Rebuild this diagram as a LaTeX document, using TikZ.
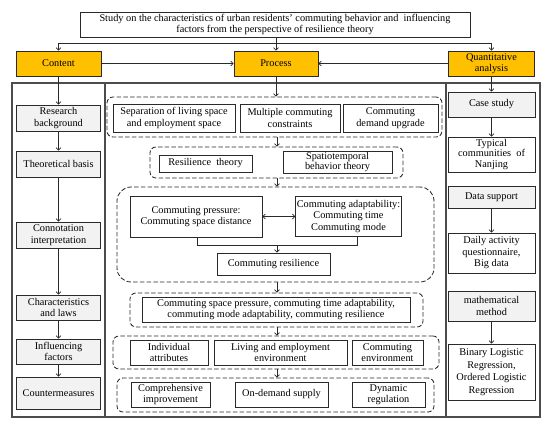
\documentclass[tikz,border=0pt]{standalone}
\usepackage{fontspec}
\setmainfont{Liberation Serif}
\usetikzlibrary{arrows.meta}
\definecolor{orng}{HTML}{FFC000}
\definecolor{lgray}{HTML}{F2F2F2}
\definecolor{lnc}{HTML}{2A2A2A}
\begin{document}
\begin{tikzpicture}[x=1pt,y=-1pt,
  font=\fontsize{10.3}{11.5}\selectfont,
  base/.style={draw=lnc, line width=0.85pt, align=center, inner sep=1pt, anchor=center},
  wbox/.style={base, fill=white},
  gbox/.style={base, fill=lgray},
  obox/.style={base, fill=orng},
  grp/.style={draw=lnc, line width=0.85pt, dash pattern=on 4.5pt off 2.2pt, rounded corners=6pt, inner sep=0pt},
  arr/.style={draw=lnc, line width=0.7pt, -{Straight Barb[length=2.5pt,width=5pt]}},
  ln/.style={draw=lnc, line width=0.7pt},
  frame/.style={draw=black!70, line width=1.1pt}]
\useasboundingbox (0,0) rectangle (550,426);

% outer frame and column dividers
\coordinate (fTL) at (12,83);
\coordinate (fBR) at (540,417);
\coordinate (dvL) at (105,83);
\coordinate (dvR) at (446,83);
\draw[frame] (fTL) rectangle (fBR);
\draw[frame] (dvL) -- (dvL |- fBR);
\draw[frame] (dvR) -- (dvR |- fBR);

% dashed groups
\node[grp, minimum width=335pt, minimum height=40pt] (d1) at (274.5,117) {};
\node[grp, minimum width=253pt, minimum height=31pt] (d2) at (276.5,162.5) {};
\node[grp, rounded corners=14pt, minimum width=317pt, minimum height=95pt] (d3) at (275.5,234.5) {};
\node[grp, minimum width=293pt, minimum height=34pt] (d4) at (276.5,310) {};
\node[grp, minimum width=326pt, minimum height=33pt] (d5) at (276,352.5) {};
\node[grp, minimum width=317pt, minimum height=34pt] (d6) at (275.5,395) {};

% top
\node[wbox, minimum width=390pt, minimum height=25pt] (title) at (275,24.5)
  {Study on the characteristics of urban residents' commuting behavior and\ \ influencing\\factors from the perspective of resilience theory};
\node[obox, minimum width=85pt, minimum height=25pt] (content) at (58.5,63.5) {Content};
\node[obox, minimum width=84pt, minimum height=25pt] (process) at (276,63.5) {Process};
\node[obox, minimum width=86pt, minimum height=25pt] (quant) at (491.5,63.5) {Quantitative\\analysis};

% left column
\node[gbox, minimum width=84pt, minimum height=26pt] (rb) at (58.5,118) {Research\\background};
\node[gbox, minimum width=84pt, minimum height=26pt] (tb) at (58.5,164) {Theoretical basis};
\node[gbox, minimum width=84pt, minimum height=26pt] (ci) at (58.5,235) {Connotation\\interpretation};
\node[gbox, minimum width=84pt, minimum height=25pt] (cl) at (58.5,307.5) {Characteristics\\and laws};
\node[gbox, minimum width=84pt, minimum height=25pt] (inf) at (58.5,351.5) {Influencing\\factors};
\node[gbox, minimum width=84pt, minimum height=32pt] (cm) at (58.5,393) {Countermeasures};

% right column
\node[gbox, minimum width=87pt, minimum height=25pt] (cs) at (491.5,104.5) {Case study};
\node[wbox, minimum width=87pt, minimum height=35pt, font=\fontsize{10.3}{10.5}\selectfont] (tc) at (491.5,154.5) {Typical\\communities\ \ of\\Nanjing};
\node[gbox, minimum width=87pt, minimum height=22pt] (ds) at (491.5,197) {Data support};
\node[wbox, minimum width=87pt, minimum height=40pt] (da) at (491.5,253) {Daily activity\\questionnaire,\\Big data};
\node[gbox, minimum width=87pt, minimum height=30pt] (mm) at (491.5,306) {mathematical\\method};
\node[wbox, minimum width=87pt, minimum height=56pt, font=\fontsize{10.3}{12.5}\selectfont] (bl) at (491.5,372) {Binary Logistic\\Regression,\\Ordered Logistic\\Regression};

% process column
\node[wbox, minimum width=122pt, minimum height=28pt] (sep) at (174,118) {Separation of living space\\and employment space};
\node[wbox, minimum width=100pt, minimum height=28pt] (mc) at (290,118) {Multiple commuting\\constraints};
\node[wbox, minimum width=95pt, minimum height=28pt] (cdu) at (390.5,118) {Commuting\\demand upgrade};

\node[wbox, minimum width=93pt, minimum height=17pt] (rt) at (205.5,163.5) {Resilience\ \ theory};
\node[wbox, minimum width=109pt, minimum height=22pt, font=\fontsize{10.3}{10.5}\selectfont] (st) at (337.5,162) {Spatiotemporal\\behavior theory};

\node[wbox, minimum width=132pt, minimum height=41pt] (cp) at (196,216.5) {Commuting pressure:\\Commuting space distance};
\node[wbox, minimum width=103pt, minimum height=40pt] (ca) at (348.5,216.5) {Commuting adaptability:\\Commuting time\\Commuting mode};
\node[wbox, minimum width=113pt, minimum height=22pt] (cr) at (273.5,264) {Commuting resilience};

\node[wbox, minimum width=268pt, minimum height=25pt] (csp) at (276,309.5) {Commuting space pressure, commuting time adaptability,\\commuting mode adaptability, commuting resilience};

\node[wbox, minimum width=78pt, minimum height=25pt] (ia) at (169,352.5) {Individual\\attributes};
\node[wbox, minimum width=133pt, minimum height=25pt] (le) at (280.5,352.5) {Living and employment\\environment};
\node[wbox, minimum width=71pt, minimum height=25pt] (ce) at (387.5,352.5) {Commuting\\environment};

\node[wbox, minimum width=79pt, minimum height=25pt] (ci2) at (170.5,394.5) {Comprehensive\\improvement};
\node[wbox, minimum width=93pt, minimum height=25pt] (od) at (281.5,394.5) {On-demand supply};
\node[wbox, minimum width=73pt, minimum height=25pt] (dr) at (388.5,394.5) {Dynamic\\regulation};

% top connectors
\coordinate (hl) at (275,43);
\draw[ln] (hl -| content) -- (hl -| quant);
\draw[arr] (hl -| content) -- (content.north);
\draw[arr] (hl -| quant) -- (quant.north);
\draw[arr] (title.south -| process) -- (process.north);
\draw[arr] (content.east) -- (process.west);
\draw[arr] (quant.west) -- (process.east);

% left column connectors
\draw[arr] (content.south) -- (rb.north);
\draw[arr] (rb.south) -- (tb.north);
\draw[arr] (tb.south) -- (ci.north);
\draw[arr] (ci.south) -- (cl.north);
\draw[arr] (cl.south) -- (inf.north);
\draw[arr] (inf.south) -- (cm.north);

% right column connectors
\draw[arr] (quant.south) -- (cs.north);
\draw[arr] (cs.south) -- (tc.north);
\draw[arr] (ds.south) -- (da.north);
\draw[arr] (mm.south) -- (bl.north);

% process column connectors
\coordinate (jx) at (277,0);
\draw[arr] (process.south) -- (d1.north -| process);
\draw[arr] (d1.south -| jx) -- (d2.north -| jx);
\draw[arr] (d2.south -| jx) -- (d3.north -| jx);
\draw[ln, {Straight Barb[length=2.5pt,width=5pt]}-{Straight Barb[length=2.5pt,width=5pt]}] (cp.east) -- (ca.west);
\coordinate (jy) at (0,245);
\draw[ln] ([xshift=1pt]cp.south) -- ([xshift=1pt]cp.south |- jy) -- ([xshift=8.5pt]ca.south |- jy) -- ([xshift=8.5pt]ca.south);
\draw[arr] (jx |- jy) -- (jx |- cr.north);
\draw[arr] (d3.south -| jx) -- (d4.north -| jx);
\draw[arr] (d4.south -| jx) -- (d5.north -| jx);
\draw[arr] (d5.south -| jx) -- (d6.north -| jx);
\end{tikzpicture}
\end{document}
